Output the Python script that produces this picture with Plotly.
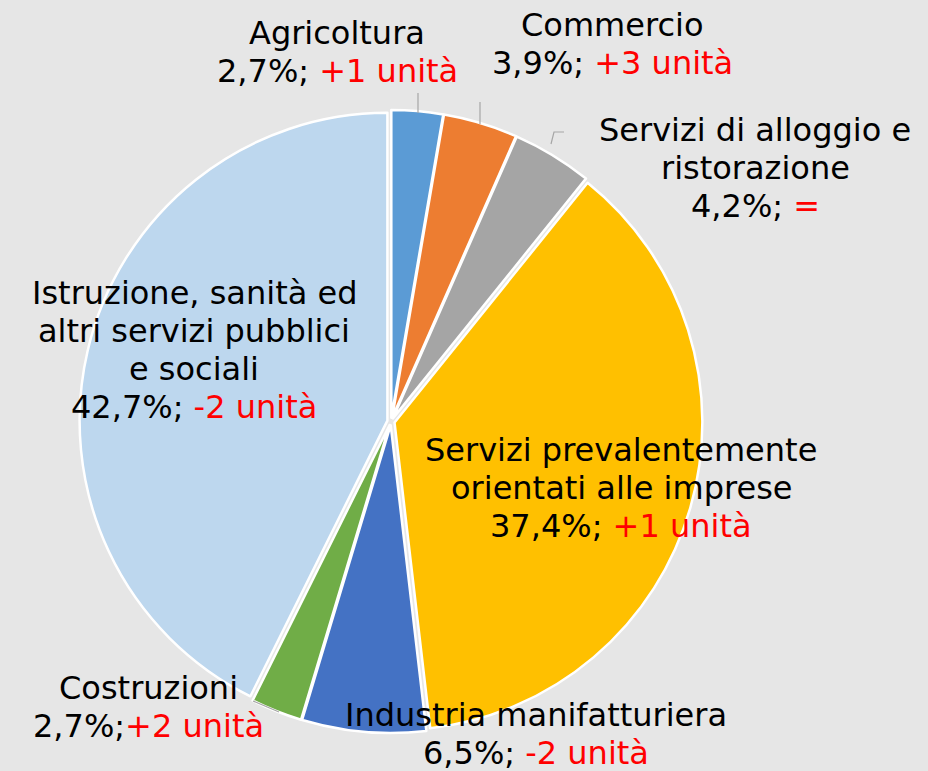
import plotly.graph_objects as go

sectors = ["Agricoltura", "Commercio", "Servizi di alloggio e ristorazione",
           "Servizi prevalentemente orientati alle imprese", "Industria manifatturiera",
           "Costruzioni", "Istruzione, sanità ed altri servizi pubblici e sociali"]
shares = [2.7, 3.9, 4.2, 37.4, 6.5, 2.7, 42.7]
changes = ["+1 unità", "+3 unità", "=", "+1 unità", "-2 unità", "+2 unità", "-2 unità"]
label_lines = [["Agricoltura"], ["Commercio"], ["Servizi di alloggio e", "ristorazione"],
               ["Servizi prevalentemente", "orientati alle imprese"], ["Industria manifatturiera"],
               ["Costruzioni"], ["Istruzione, sanità ed", "altri servizi pubblici", "e sociali"]]
separators = ["; ", "; ", "; ", "; ", "; ", ";", "; "]
colors = ["#5B9BD5", "#ED7D31", "#A5A5A5", "#FFC000", "#4472C4", "#70AD47", "#BDD7EE"]

# label block positions in pixels: (centre x, centre y of first line)
label_pos = [(337, 33), (612, 25), (755, 130), (621, 450), (536, 715), (148, 688), (194, 293)]
LINE_H = 38

W, H = 928, 771
fig = go.Figure()
fig.add_trace(go.Pie(
    labels=sectors, values=shares, sort=False, direction="clockwise", rotation=0,
    marker=dict(colors=colors, line=dict(color="white", width=2.5)),
    pull=[0.012] * len(shares), textinfo="none", hoverinfo="label+percent",
    showlegend=False,
    domain=dict(x=[74 / W, 708 / W], y=[1 - 733 / H, 1 - 110 / H]),
))

for name_lines, share, ch, sep, (x, y) in zip(label_lines, shares, changes, separators, label_pos):
    pct = f"{share:.1f}".replace(".", ",") + "%"
    lines = list(name_lines) + [f"{pct}{sep}<span style='color:#FF0000'>{ch}</span>"]
    for i, ln in enumerate(lines):
        fig.add_annotation(x=x / W, y=1 - (y + i * LINE_H) / H, xref="paper", yref="paper",
                           text=ln, showarrow=False, align="center",
                           xanchor="center", yanchor="middle",
                           font=dict(family="DejaVu Sans", size=32, color="black"))

# leader lines
lc = dict(color="#A6A6A6", width=1.2)
def px(xp, yp):
    return xp / W, 1 - yp / H
for pts in [[(418, 113), (418, 93)], [(480, 124), (480, 102)],
            [(551, 144), (554, 132), (564, 132)], [(253, 701), (279, 712)]]:
    path = "M " + " L ".join(f"{px(a, b)[0]},{px(a, b)[1]}" for a, b in pts)
    fig.add_shape(type="path", path=path, xref="paper", yref="paper", line=lc)

fig.update_layout(width=W, height=H, margin=dict(l=0, r=0, t=0, b=0),
                  paper_bgcolor="#E6E6E6", plot_bgcolor="#E6E6E6")
fig.write_html("out.html", config={"displayModeBar": False},
               post_script="document.body.style.margin='0';document.body.style.background='#E6E6E6';")
